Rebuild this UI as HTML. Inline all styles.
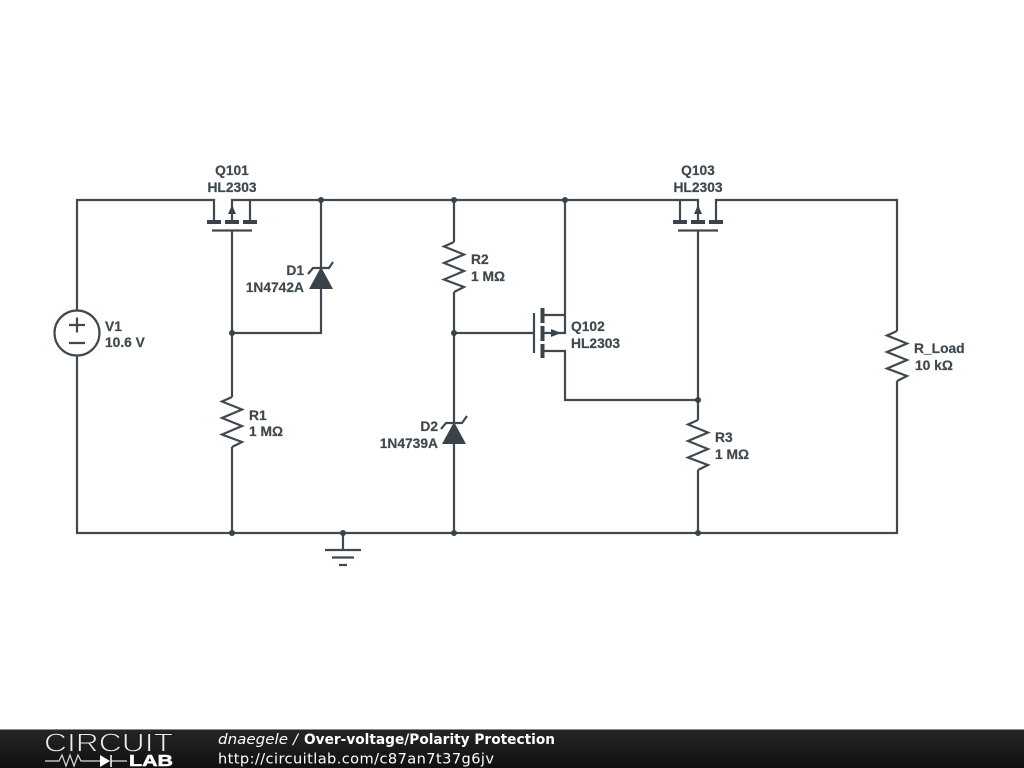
<!DOCTYPE html>
<html>
<head>
<meta charset="utf-8">
<title>Over-voltage/Polarity Protection</title>
<style>
html,body{margin:0;padding:0;background:#fff;width:1024px;height:768px;overflow:hidden}
svg{display:block;filter:blur(0.35px)}
.w{fill:none;stroke:#404950;stroke-width:2.2;stroke-linejoin:miter}
.p{stroke:#3a4349;stroke-width:4;fill:none}
.f{fill:#3a4349;stroke:none}
.t{font-family:"Liberation Sans",Arial,sans-serif;font-weight:bold;font-size:13.8px;fill:#3f484e;stroke:#3f484e;stroke-width:0.2}
.m{text-anchor:middle}
.e{text-anchor:end}
.d{font-family:"DejaVu Sans",sans-serif;font-size:14.6px;fill:#fff}
</style>
</head>
<body>
<svg width="1024" height="768" viewBox="0 0 1024 768" xmlns="http://www.w3.org/2000/svg">
<defs>
<linearGradient id="bar" x1="0" y1="0" x2="0" y2="1">
<stop offset="0" stop-color="#262626"/><stop offset="1" stop-color="#101010"/>
</linearGradient>
</defs>
<rect width="1024" height="768" fill="#fff"/>

<!-- wires -->
<path class="w" d="M214 222V200H77V533H897V381M897 331V200H716V222"/>
<path class="w" d="M232 222V200H698V222"/>
<path class="w" d="M250 200V222"/>
<path class="w" d="M680 200V222"/>
<path class="w" d="M232 231V397M232 447V533"/>
<path class="w" d="M232 333H321V200"/>
<path class="w" d="M454 200V242M454 292V422M454 444V533"/>
<path class="w" d="M454 333H534"/>
<path class="w" d="M565 200V333H543M543 315H565M543 351H565V400H698"/>
<path class="w" d="M698 231V420M698 470V533"/>

<!-- Q101 -->
<path class="p" d="M207 222H221M225 222H239M243 222H257"/>
<path class="w" d="M212 230.500H252"/>
<path class="f" d="M232 205L236 214H228Z"/>
<!-- Q103 -->
<path class="p" d="M673 222H687M691 222H705M709 222H723"/>
<path class="w" d="M678 230.500H718"/>
<path class="f" d="M698 205L702 214H694Z"/>
<!-- Q102 -->
<path class="p" d="M542.500 308V323M542.500 326V341M542.500 344V358"/>
<path class="w" d="M534 313V353"/>
<path class="f" d="M561 333L551 329V337Z"/>

<!-- resistors -->
<path class="w" d="M232 397L222 401.500L242 409.500L222 418L242 426L222 434.500L242 442L232 447"/>
<path class="w" d="M454 242L444 246.500L464 254.500L444 263L464 271L444 279.500L464 287L454 292"/>
<path class="w" d="M698 420L688 424.500L708 432.500L688 441L708 449L688 457.500L708 465L698 470"/>
<path class="w" d="M897 331L887 335.500L907 343.500L887 352L907 360L887 368.500L907 376L897 381"/>

<!-- zeners -->
<path class="f" d="M321 267L333 289H309Z"/>
<path class="w" d="M308 274L313 268H329L333 262"/>
<path class="f" d="M454 422L466 444H442Z"/>
<path class="w" d="M441 429L446 423H462L467 416"/>

<!-- V1 -->
<circle cx="77" cy="333" r="22.500" fill="#fff" stroke="#404950" stroke-width="2.200"/>
<path class="w" d="M69 325H85M77 317.500V332.500M69 343H85"/>

<!-- ground -->
<path class="w" d="M343 533V550M325 550H361M332 557.500H354M339 565H347"/>

<!-- junctions -->
<g class="f">
<circle cx="321" cy="200" r="3"/><circle cx="454" cy="200" r="3"/><circle cx="565" cy="200" r="3"/>
<circle cx="232" cy="333" r="3"/><circle cx="454" cy="333" r="3"/><circle cx="698" cy="400" r="3"/>
<circle cx="232" cy="533" r="3"/><circle cx="343" cy="533" r="3"/><circle cx="454" cy="533" r="3"/><circle cx="698" cy="533" r="3"/>
</g>

<!-- labels -->
<text class="t m" x="232" y="175">Q101</text>
<text class="t m" x="232" y="192">HL2303</text>
<text class="t m" x="698" y="175">Q103</text>
<text class="t m" x="698" y="192">HL2303</text>
<text class="t" x="571" y="331">Q102</text>
<text class="t" x="571" y="348">HL2303</text>
<text class="t e" x="304" y="275">D1</text>
<text class="t e" x="304" y="292">1N4742A</text>
<text class="t e" x="438" y="431">D2</text>
<text class="t e" x="438" y="448">1N4739A</text>
<text class="t" x="105" y="331">V1</text>
<text class="t" x="105" y="347">10.6 V</text>
<text class="t" x="249" y="420">R1</text>
<text class="t" x="249" y="436">1 MΩ</text>
<text class="t" x="471" y="264">R2</text>
<text class="t" x="471" y="281">1 MΩ</text>
<text class="t" x="715" y="442">R3</text>
<text class="t" x="715" y="459">1 MΩ</text>
<text class="t" x="914" y="353">R_Load</text>
<text class="t" x="915" y="370">10 kΩ</text>

<!-- footer -->
<rect x="0" y="729" width="1024" height="39" fill="url(#bar)"/>
<rect x="0" y="729" width="1024" height="1" fill="#8a8a8a"/>
<text x="44" y="751.500" font-family="'Liberation Sans',sans-serif" font-size="26" fill="#eeeeee" stroke="#1e1e1e" stroke-width="0.9" textLength="129" lengthAdjust="spacingAndGlyphs">CIRCUIT</text>
<path fill="none" stroke="#ddd" stroke-width="1.200" d="M45 761H59L62 755L66 766L70 755L74 766L78 755L81 761H100M111 761H127"/>
<path fill="#fff" d="M100 755L110 761L100 767Z"/>
<path stroke="#fff" stroke-width="1.500" d="M111 755V767"/>
<text x="129" y="766" font-family="'Liberation Sans',sans-serif" font-weight="bold" font-size="15.500" fill="#fff" stroke="#fff" stroke-width="0.5" textLength="44" lengthAdjust="spacingAndGlyphs">LAB</text>
<text class="d" x="218" y="744" font-style="italic" fill="#e8e8e8" font-size="15" textLength="70" lengthAdjust="spacingAndGlyphs">dnaegele</text>
<text class="d" x="293" y="744" font-style="italic" fill="#e8e8e8">/</text>
<text class="d" x="304" y="744" font-weight="bold" font-size="14" textLength="251" lengthAdjust="spacingAndGlyphs">Over-voltage/Polarity Protection</text>
<text class="d" x="218" y="763.500" fill="#eee" textLength="276" lengthAdjust="spacing">http://circuitlab.com/c87an7t37g6jv</text>
</svg>
</body>
</html>
